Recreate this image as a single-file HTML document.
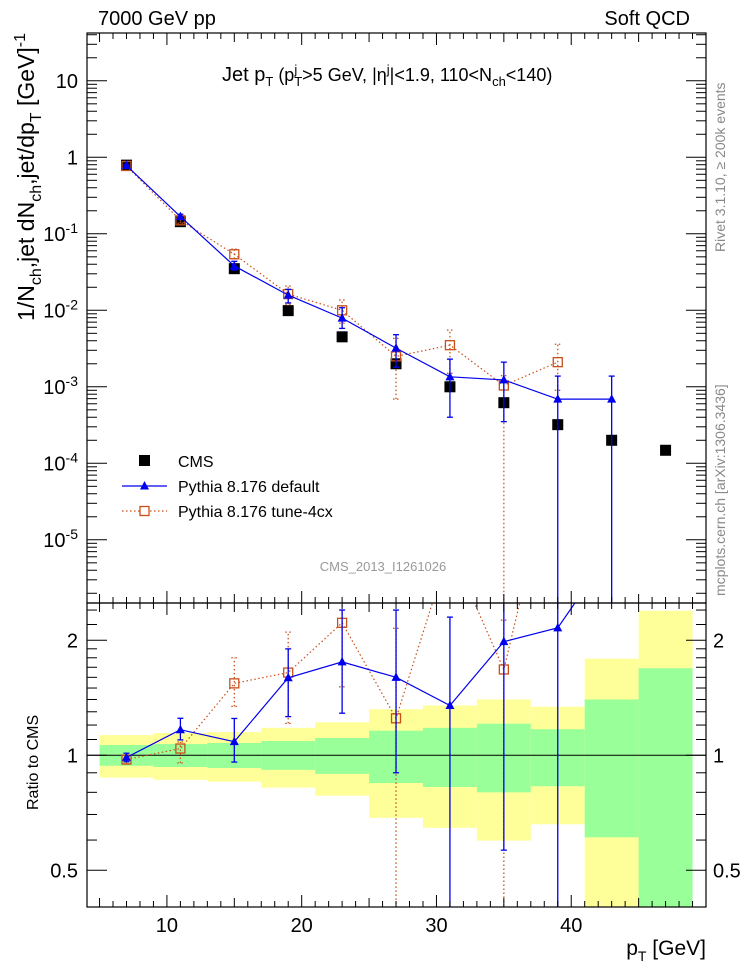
<!DOCTYPE html>
<html><head><meta charset="utf-8"><style>
html,body{margin:0;padding:0;background:#fff;width:746px;height:972px;overflow:hidden;position:relative;}
svg{display:block;font-family:"Liberation Sans",Arial,sans-serif;}
</style></head><body>
<svg id="c" width="746" height="972" viewBox="0 0 746 972" style="position:absolute;left:0;top:0"></svg>
<script>
const xs = [7,11,15,19,23,27,31,35,39,43,47];
const cms = [0.79,0.144,0.035,0.0099,0.0045,0.002,0.001,0.00062,0.00032,0.0002,0.000148];
const defX = [7,11,15,19,23,27,31,35,39,43];
const defV = [0.78,0.168,0.038,0.0158,0.0079,0.0032,0.00135,0.00123,0.00069,0.00069];
const defLo = [0.76,0.158,0.0336,0.0125,0.0058,0.0018,0.0004,0.00035,0.000001,0.000001];
const defHi = [0.80,0.18,0.0437,0.0188,0.0108,0.0048,0.0023,0.0021,0.00138,0.00138];
const tunX = [7,11,15,19,23,27,31,35,39];
const tunV = [0.77,0.15,0.054,0.0163,0.01,0.0025,0.0035,0.00104,0.0021];
const tunLo = [0.75,0.1375,0.047,0.012,0.0068,0.00069,0.0015,0.000001,0.0009];
const tunHi = [0.79,0.156,0.063,0.0208,0.0136,0.0043,0.0055,0.0014,0.0036];
const binEdges = [5,9,13,17,21,25,29,33,37,41,45,49];
const yelUp = [1.13,1.144,1.15,1.18,1.22,1.32,1.35,1.40,1.34,1.79,2.39];
const yelDn = [0.874,0.863,0.853,0.823,0.784,0.686,0.646,0.598,0.66,0.01,0.01];
const grnUp = [1.064,1.07,1.077,1.09,1.11,1.16,1.18,1.21,1.17,1.40,1.69];
const grnDn = [0.939,0.932,0.926,0.916,0.894,0.846,0.826,0.80,0.83,0.61,0.01];
const upperTicks = [10,1,0.1,0.01,0.001,0.0001,0.00001];
const upperTickLabels = ["10","1","10^-1","10^-2","10^-3","10^-4","10^-5"];
const ratioTicks = [2,1,0.5];
const ratioTickLabels = ["2","1","0.5"];
const xTicks = [10,20,30,40];

const NS="http://www.w3.org/2000/svg";
const svg=document.getElementById('c');
const L=87,R=706,T1=33,B1=603,T2=603,B2=907;
const XMIN=4.07,XMAX=50;
const X=v=>L+(v-XMIN)*(R-L)/(XMAX-XMIN);
const Y1=v=>157.3-76.5*Math.log10(Math.max(v,1e-9));
const Y2=v=>755.3-115*Math.log2(Math.max(v,1e-9));
function el(t,a,p){const e=document.createElementNS(NS,t);for(const k in a)e.setAttribute(k,a[k]);(p||svg).appendChild(e);return e;}
const clip1=el('clipPath',{id:'cp1'});el('rect',{x:L,y:T1,width:R-L,height:B1-T1},clip1);
const clip2=el('clipPath',{id:'cp2'});el('rect',{x:L,y:T2,width:R-L,height:B2-T2},clip2);
const g1=el('g',{'clip-path':'url(#cp1)'});


const g2=el('g',{'clip-path':'url(#cp2)'});



for(let i=0;i<yelUp.length;i++){
  const x0=X(binEdges[i]),x1=X(binEdges[i+1]);
  const y=el('rect',{x:x0,y:Y2(yelUp[i]),width:x1-x0,height:Y2(yelDn[i])-Y2(yelUp[i]),fill:'#ffff99'},g2);
  
  
  const g=el('rect',{x:x0,y:Y2(grnUp[i]),width:x1-x0,height:Y2(grnDn[i])-Y2(grnUp[i]),fill:'#99ff99'},g2);
  
  
}
el('line',{x1:L,x2:R,y1:Y2(1),y2:Y2(1),stroke:'#000','stroke-width':1},g2);

const BLUE='#0000ee',ORG='#c8501a';
function series(xv,v,lo,hi,col,dash,marker,g,Y,ratio,name){
  const pts=xv.map((x,i)=>{const d=ratio?cms[xs.indexOf(x)]:1;return [X(x),Y(v[i]/d),Y(lo[i]/d),Y(hi[i]/d)];});
  const pl=el('polyline',{points:pts.map(p=>p[0]+','+p[1]).join(' '),fill:'none',stroke:col,'stroke-width':1.2,'stroke-dasharray':dash},g);
  
  
  pts.forEach(p=>{
    if(ratio && p[1]<T2-20) return;
    const e=el('line',{x1:p[0],x2:p[0],y1:p[2],y2:p[3],stroke:col,'stroke-width':1.3,'stroke-dasharray':dash},g);
    
    
    el('line',{x1:p[0]-3,x2:p[0]+3,y1:p[2],y2:p[2],stroke:col,'stroke-width':1.3,'stroke-dasharray':dash},g);
    el('line',{x1:p[0]-3,x2:p[0]+3,y1:p[3],y2:p[3],stroke:col,'stroke-width':1.3,'stroke-dasharray':dash},g);
    let m;
    if(marker==='tri') m=el('polygon',{points:`${p[0]},${p[1]-5} ${p[0]-4.5},${p[1]+3.5} ${p[0]+4.5},${p[1]+3.5}`,fill:col},g);
    else m=el('rect',{x:p[0]-4.5,y:p[1]-4.5,width:9,height:9,fill:'none',stroke:col,'stroke-width':1.3},g);
    
    
  });
}
xs.forEach((x,i)=>{
  const m=el('rect',{x:X(x)-5.5,y:Y1(cms[i])-5.5,width:11,height:11,fill:'#000'},g1);
  
  
});
series(tunX,tunV,tunLo,tunHi,ORG,'1.5,2.5','sq',g1,Y1,false,'tune-4cx');
series(defX,defV,defLo,defHi,BLUE,'','tri',g1,Y1,false,'pythia-default');
series(tunX,tunV,tunLo,tunHi,ORG,'1.5,2.5','sq',g2,Y2,true,'tune-4cx-ratio');
series(defX,defV,defLo,defHi,BLUE,'','tri',g2,Y2,true,'pythia-default-ratio');

for(const [t,b,n] of [[T1,B1,'upper-frame'],[T2,B2,'ratio-frame']]){
  const f=el('rect',{x:L,y:t,width:R-L,height:b-t,fill:'none',stroke:'#000','stroke-width':1.2});
  
  
}
for(let v=5;v<=50;v++){
  const len=v%10===0?12:(v%5===0?9:6);
  for(const [yb,dir] of [[B2,-1],[B1,-1],[T1,1],[T2,1]]){
    el('line',{x1:X(v),x2:X(v),y1:yb,y2:yb+dir*len,stroke:'#000','stroke-width':1});
  }
}
xTicks.forEach(v=>{
  const t=el('text',{x:X(v),y:932,'text-anchor':'middle','font-size':20},svg);t.textContent=v;
  
  
});
for(let d=-6;d<=1;d++){
  for(let m=1;m<=9;m++){
    const v=m*Math.pow(10,d),y=Y1(v);
    if(y<T1||y>B1)continue;
    const len=m===1?20:10;
    el('line',{x1:L,x2:L+len,y1:y,y2:y,stroke:'#000','stroke-width':1});
    el('line',{x1:R,x2:R-len,y1:y,y2:y,stroke:'#000','stroke-width':1});
  }
}
upperTicks.forEach((v,i)=>{
  const s=upperTickLabels[i];const y=Y1(v)+7;
  const t=el('text',{x:78,y:y,'text-anchor':'end','font-size':20});
  
  
  if(s.includes('^')){const [a,b]=s.split('^');t.textContent=a;const ts=el('tspan',{dy:-8,'font-size':14},t);ts.textContent=b;}
  else t.textContent=s;
});
const rt=[0.4,0.5,0.6,0.7,0.8,0.9,1,1.1,1.2,1.3,1.4,1.5,1.6,1.7,1.8,1.9,2,2.2,2.4];
rt.forEach(v=>{const y=Y2(v);if(y<T2||y>B2)return;const len=(v===0.5||v===1||v===2)?20:10;
  el('line',{x1:L,x2:L+len,y1:y,y2:y,stroke:'#000','stroke-width':1});
  el('line',{x1:R,x2:R-len,y1:y,y2:y,stroke:'#000','stroke-width':1});});
ratioTicks.forEach((v,i)=>{
  const a=el('text',{x:78,y:Y2(v)+7,'text-anchor':'end','font-size':20});a.textContent=ratioTickLabels[i];
  
  
  const b=el('text',{x:713,y:Y2(v)+7,'text-anchor':'start','font-size':20});b.textContent=ratioTickLabels[i];
  
  
});
</script>
<svg width="746" height="972" style="position:absolute;left:0;top:0;font-family:'Liberation Sans',Arial,sans-serif">
<text x="98" y="25" font-size="20">7000 GeV pp</text>
<text x="690" y="25" font-size="20" text-anchor="end">Soft QCD</text>
<text x="222" y="81" font-size="20">Jet p<tspan dy="5" font-size="13">T</tspan><tspan dy="-5" font-size="18"> (p</tspan><tspan dy="-7" font-size="13">j</tspan><tspan dx="-3" dy="12" font-size="13">T</tspan><tspan dy="-5" font-size="18">&gt;5 GeV, |η</tspan><tspan dy="-7" font-size="13">j</tspan><tspan dy="7" font-size="18">|&lt;1.9, 110&lt;N</tspan><tspan dy="5" font-size="13">ch</tspan><tspan dy="-5" font-size="18">&lt;140)</tspan></text>
<text transform="translate(34,33) rotate(-90)" font-size="23" text-anchor="end">1/N<tspan dy="7" font-size="16">ch</tspan><tspan dy="-7">,jet dN</tspan><tspan dy="7" font-size="16">ch</tspan><tspan dy="-7">,jet/dp</tspan><tspan dy="7" font-size="16">T</tspan><tspan dy="-7"> [GeV]</tspan><tspan dy="-9" font-size="16">-1</tspan></text>
<text transform="translate(38,810) rotate(-90)" font-size="16">Ratio to CMS</text>
<text x="706" y="955" font-size="21" text-anchor="end">p<tspan dy="6" font-size="14">T</tspan><tspan dy="-6"> [GeV]</tspan></text>
<text transform="translate(725,252) rotate(-90)" font-size="14" fill="#888">Rivet 3.1.10, ≥ 200k events</text>
<text transform="translate(725,596) rotate(-90)" font-size="14" fill="#888">mcplots.cern.ch [arXiv:1306.3436]</text>
<text x="383" y="571" font-size="13" fill="#999" text-anchor="middle">CMS_2013_I1261026</text>
<g>
<rect x="139" y="455" width="11" height="11" fill="#000"/>
<text x="178" y="467" font-size="16">CMS</text>
<line x1="122" x2="167" y1="486" y2="486" stroke="#0000ee" stroke-width="1.2"/>
<polygon points="144.5,481 140,489.5 149,489.5" fill="#0000ee"/>
<text x="178" y="492" font-size="16">Pythia 8.176 default</text>
<line x1="122" x2="167" y1="511" y2="511" stroke="#c8501a" stroke-width="1.2" stroke-dasharray="1.5,2.5"/>
<rect x="140" y="506.5" width="9" height="9" fill="#fff" stroke="#c8501a" stroke-width="1.3"/>
<text x="178" y="517" font-size="16">Pythia 8.176 tune-4cx</text>
</g>
</svg>
</body></html>
